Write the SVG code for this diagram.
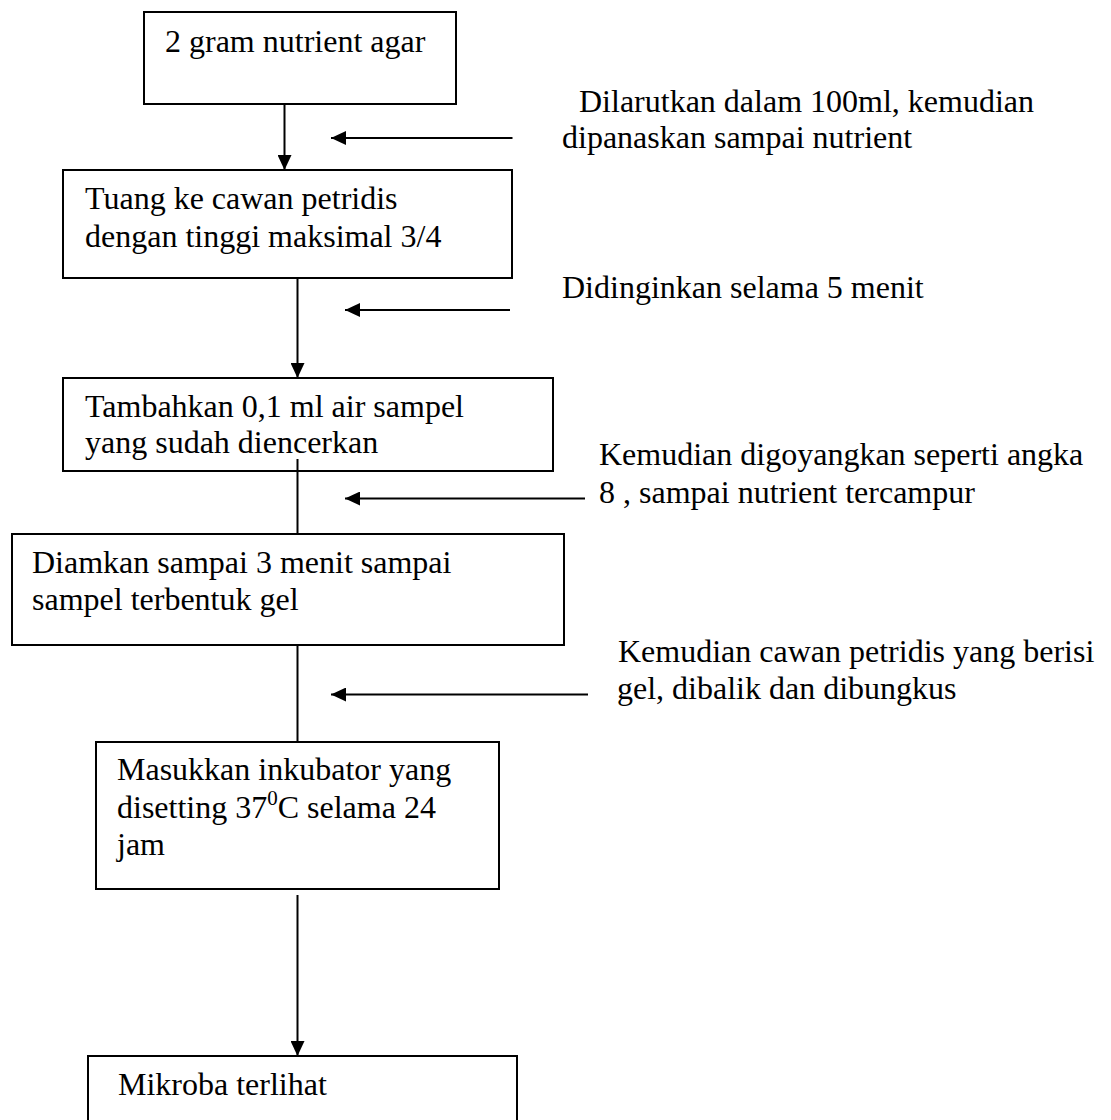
<svg xmlns="http://www.w3.org/2000/svg" width="1111" height="1120" viewBox="0 0 1111 1120">
<style>
text { font-family: "Liberation Serif", "Times New Roman", serif; font-size: 32px; fill: #000; }
.box { fill: #fff; stroke: #000; stroke-width: 2; }
.ln { stroke: #000; stroke-width: 2; fill: none; }
.arr { stroke: #000; stroke-width: 2; fill: none; marker-end: url(#ah); }
</style>
<defs>
<marker id="ah" markerUnits="userSpaceOnUse" markerWidth="16" markerHeight="14" refX="15" refY="7" orient="auto">
<path d="M0,0 L15,7 L0,14 Z" fill="#000"/>
</marker>
</defs>
<rect width="1111" height="1120" fill="#fff"/>
<g id="connectors">
<line class="arr" x1="284.5" y1="104" x2="284.5" y2="170"/>
<line class="arr" x1="512.5" y1="138" x2="331" y2="138"/>
<line class="arr" x1="297.5" y1="278" x2="297.5" y2="378"/>
<line class="arr" x1="510" y1="310" x2="345" y2="310"/>
<line class="ln" x1="297.5" y1="459" x2="297.5" y2="534"/>
<line class="arr" x1="585" y1="498.5" x2="345" y2="498.5"/>
<line class="ln" x1="297.5" y1="645" x2="297.5" y2="742"/>
<line class="arr" x1="588" y1="694.5" x2="331" y2="694.5"/>
<line class="arr" x1="297.5" y1="895" x2="297.5" y2="1056"/>
</g>
<g id="n1">
<rect class="box" x="144" y="12" width="312" height="92"/>
<text x="165" y="52">2 gram nutrient agar</text>
</g>
<g id="n2">
<rect class="box" x="63" y="170" width="449" height="108"/>
<text x="85" y="209">Tuang ke cawan petridis</text>
<text x="85" y="247">dengan tinggi maksimal 3/4</text>
</g>
<g id="n3">
<rect class="box" x="63" y="378" width="490" height="93"/>
<text x="85" y="417">Tambahkan 0,1 ml air sampel</text>
<text x="85" y="453">yang sudah diencerkan</text>
</g>
<line class="ln" x1="297.5" y1="459" x2="297.5" y2="471"/>
<g id="n4">
<rect class="box" x="12" y="534" width="552" height="111"/>
<text x="32" y="573">Diamkan sampai 3 menit sampai</text>
<text x="32" y="610">sampel terbentuk gel</text>
</g>
<g id="n5">
<rect class="box" x="96" y="742" width="403" height="147"/>
<text x="117" y="780">Masukkan inkubator yang</text>
<text x="117" y="818">disetting 37<tspan font-size="21" dy="-13">0</tspan><tspan dy="13">C selama 24</tspan></text>
<text x="117" y="855">jam</text>
</g>
<g id="n6">
<rect class="box" x="88" y="1056" width="429" height="80"/>
<text x="118" y="1095">Mikroba terlihat</text>
</g>
<g id="labels">
<text x="579" y="112">Dilarutkan dalam 100ml, kemudian</text>
<text x="562" y="148">dipanaskan sampai nutrient</text>
<text x="562" y="298">Didinginkan selama 5 menit</text>
<text x="599" y="465">Kemudian digoyangkan seperti angka</text>
<text x="599" y="503">8 , sampai nutrient tercampur</text>
<text x="618" y="662">Kemudian cawan petridis yang berisi</text>
<text x="617" y="699">gel, dibalik dan dibungkus</text>
</g>
</svg>
